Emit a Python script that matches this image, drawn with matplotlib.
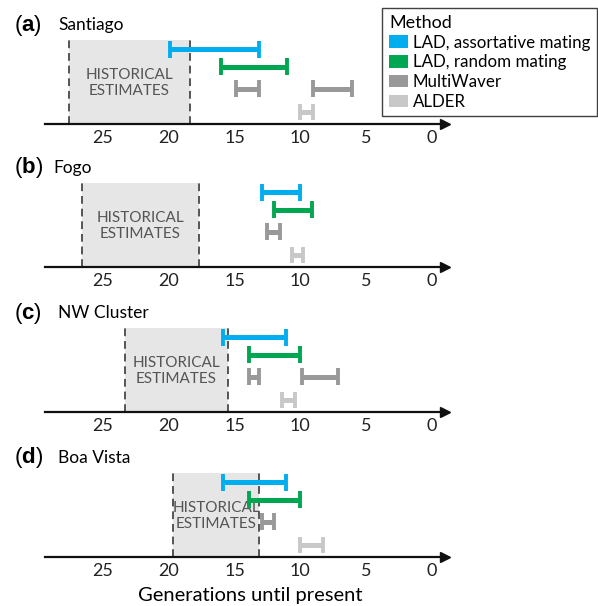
import matplotlib
matplotlib.use("Agg")
import matplotlib.pyplot as plt
from matplotlib.patches import Patch

plt.rcParams['font.family'] = ['Lato', 'DejaVu Sans']
plt.rcParams['mathtext.fontset'] = 'custom'
plt.rcParams['mathtext.rm'] = 'Liberation Sans'
plt.rcParams['mathtext.bf'] = 'Liberation Sans:bold'

# data (generations before present)
panel_tags = ["a", "b", "c", "d"]
panel_names = ["Santiago", "Fogo", "NW Cluster", "Boa Vista"]
hist_lo = [18.4, 17.7, 15.5, 13.1]
hist_hi = [27.6, 26.6, 23.3, 19.65]
lad_assort = [(13.1, 19.9), (10.05, 12.9), (11.05, 15.9), (11.05, 15.9)]
lad_random = [(11.0, 16.0), (9.1, 12.0), (10.05, 13.9), (10.05, 13.9)]
multiwaver = [[(13.1, 14.85), (6.1, 9.0)],
              [(11.55, 12.5)],
              [(13.1, 13.9), (7.1, 9.9)],
              [(12.0, 12.9)]]
alder = [(9.0, 10.0), (9.8, 10.6), (10.4, 11.4), (8.25, 10.0)]
xticks = [25, 20, 15, 10, 5, 0]

methods = ["LAD, assortative mating", "LAD, random mating", "MultiWaver", "ALDER"]
colors = ["#00aeef", "#00a651", "#999999", "#c8c8c8"]
row_y = [3.4, 2.6, 1.6, 0.55]

W, H = 598, 606
fig = plt.figure(figsize=(W / 100, H / 100), dpi=100)

axis_px = [124, 267, 412, 557]   # y of each time axis, from top
ax_h = 90
unit = 22.0                       # px per y unit


def bar(ax, lo, hi, y, color):
    ax.hlines(y, lo, hi, color=color, lw=3.6, zorder=5)
    ax.vlines([lo, hi], y - 0.38, y + 0.38, color=color, lw=2.8, zorder=5)


for i in range(4):
    bottom = (H - axis_px[i]) / H
    ax = fig.add_axes([45 / W, bottom, 400 / W, ax_h / H])
    ax.set_xlim(29.4, -1.0)
    ax.set_ylim(0, ax_h / unit)
    for s in ["top", "right", "left"]:
        ax.spines[s].set_visible(False)
    ax.spines["bottom"].set_linewidth(1.6)
    ax.spines["bottom"].set_color("#111111")
    ax.plot(1, 0, ">", color="#111111", ms=7, transform=ax.transAxes, clip_on=False)
    ax.set_yticks([])
    ax.set_xticks(xticks)
    ax.tick_params(axis="x", length=0, pad=4, labelsize=13, labelcolor="#222222")
    ax.patch.set_visible(False)

    # historical estimates box
    ax.fill_between([hist_lo[i], hist_hi[i]], 0, 3.8, color="#e6e6e6", lw=0, zorder=1)
    ax.vlines([hist_lo[i], hist_hi[i]], 0, 3.8, colors="#555555", lw=1.4,
              linestyles=(0, (4, 2.5)), zorder=2)
    ax.text((hist_lo[i] + hist_hi[i]) / 2, 1.85, "HISTORICAL\nESTIMATES",
            ha="center", va="center", fontsize=11, color="#555555",
            linespacing=1.2, zorder=3)

    bar(ax, *lad_assort[i], row_y[0], colors[0])
    bar(ax, *lad_random[i], row_y[1], colors[1])
    for lo, hi in multiwaver[i]:
        bar(ax, lo, hi, row_y[2], colors[2])
    bar(ax, *alder[i], row_y[3], colors[3])

    ty = (H - axis_px[i] + 99) / H
    fig.text(14 / W, ty, r"($\mathbf{%s}$)" % panel_tags[i], fontsize=16,
             family="Liberation Sans", va="center", ha="left")
    fig.text((58 if i != 1 else 53) / W, ty, panel_names[i], fontsize=12.5,
             va="center", ha="left")

handles = [Patch(facecolor=c, edgecolor="none") for c in colors]
leg = fig.legend(handles, methods, loc="upper right",
                 bbox_to_anchor=(597 / W, 1 - 8 / H), title="Method",
                 fontsize=12.2, title_fontsize=13, alignment="left",
                 frameon=True, fancybox=False, edgecolor="#111111",
                 handlelength=1.1, handleheight=0.75, handletextpad=0.3,
                 labelspacing=0.22, borderpad=0.4, borderaxespad=0)
leg.get_frame().set_linewidth(1.0)

fig.text(250 / W, 1 - 595 / H, "Generations until present", fontsize=14.5,
         ha="center", va="center")

fig.savefig("out.png", dpi=100)
